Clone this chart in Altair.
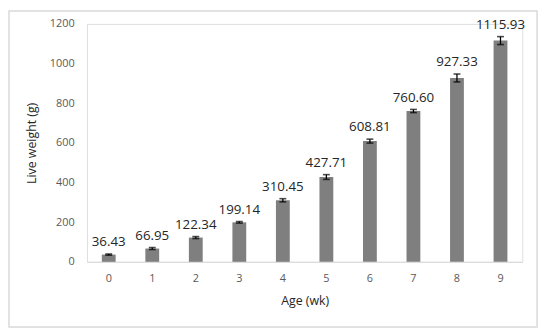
import altair as alt
import pandas as pd

ages = [0, 1, 2, 3, 4, 5, 6, 7, 8, 9]
weights = [36.43, 66.95, 122.34, 199.14, 310.45, 427.71, 608.81, 760.60, 927.33, 1115.93]
errors = [3, 5, 5, 4, 8, 12, 10, 8, 20, 20]
labels = ["36.43", "66.95", "122.34", "199.14", "310.45", "427.71", "608.81", "760.60", "927.33", "1115.93"]

df = pd.DataFrame({
    "age": ages,
    "w": weights,
    "lo": [w - e for w, e in zip(weights, errors)],
    "hi": [w + e for w, e in zip(weights, errors)],
    "lab": labels,
})

FONT = "Open Sans"

x = alt.X("age:O", title="Age (wk)",
          scale=alt.Scale(paddingInner=0, paddingOuter=0),
          axis=alt.Axis(labelAngle=0, ticks=False, domainColor="#d9d9d9", domainWidth=1,
                        labelColor="#595959", labelFontSize=11, labelPadding=11,
                        titleColor="#262626", titleFontSize=12.5, titleFontWeight="normal",
                        titlePadding=11, labelFont=FONT, titleFont=FONT))
y_axis = alt.Axis(values=[0, 200, 400, 600, 800, 1000, 1200], format="d", grid=False, domain=False, ticks=False,
                  labelColor="#595959", labelFontSize=11, labelPadding=13,
                  titleColor="#262626", titleFontSize=12.5, titleFontWeight="normal",
                  titlePadding=11, labelFont=FONT, titleFont=FONT)

base = alt.Chart(df)

border = alt.Chart(pd.DataFrame({"k": [0]})).mark_rect(
    fill="white", fillOpacity=0, stroke="#d9d9d9", strokeWidth=1.5
).encode(x=alt.value(-79), x2=alt.value(456), y=alt.value(-13), y2=alt.value(307))

bars = base.mark_bar(color="#7f7f7f", size=14).encode(
    x=x,
    y=alt.Y("w:Q", title="Live weight (g)", scale=alt.Scale(domain=[0, 1200], nice=False), axis=y_axis),
)
rules = base.mark_rule(color="#000000", strokeWidth=1.3).encode(x="age:O", y="lo:Q", y2="hi:Q")
cap_hi = base.mark_tick(color="#000000", size=7, thickness=1.6, orient="horizontal").encode(x="age:O", y="hi:Q")
cap_lo = base.mark_tick(color="#000000", size=7, thickness=1.6, orient="horizontal").encode(x="age:O", y="lo:Q")
text = base.mark_text(font=FONT, fontSize=13.5, color="#262626", dy=-8, baseline="alphabetic").encode(
    x="age:O", y="hi:Q", text="lab:N"
)

chart = alt.layer(border, bars, rules, cap_hi, cap_lo, text).properties(
    width=441, height=241,
    autosize=alt.AutoSizeParams(type="none"),
    padding={"left": 80, "top": 14, "right": 20, "bottom": 70},
).configure_view(stroke=None).configure(background="white")

chart.save("out.html", embed_options={"renderer": "svg", "actions": False})
